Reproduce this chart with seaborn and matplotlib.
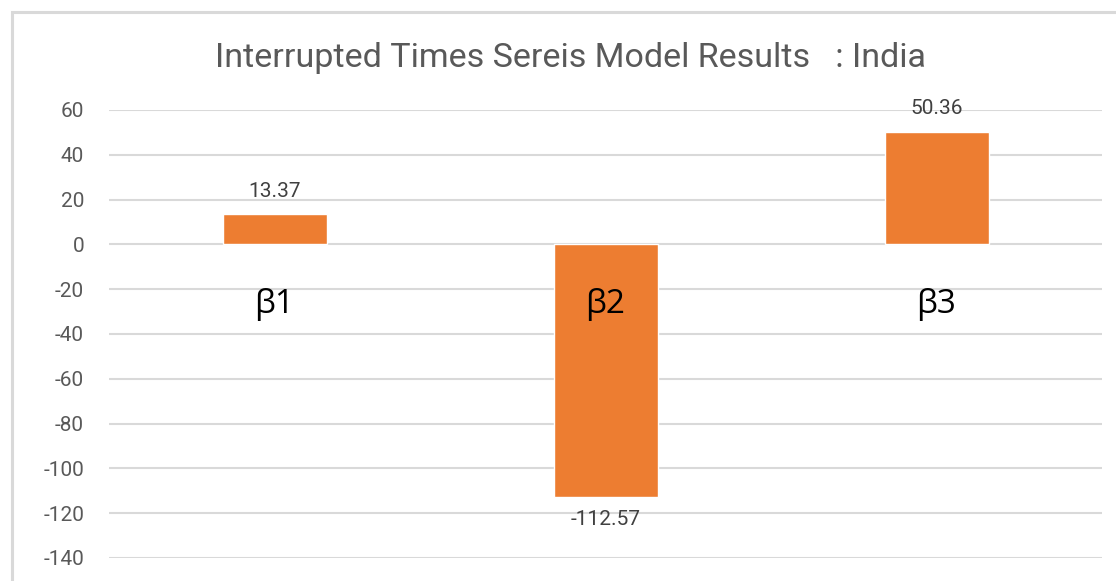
import pandas as pd
import matplotlib
matplotlib.use("Agg")
import matplotlib.pyplot as plt
import seaborn as sns
from matplotlib.patches import Rectangle

categories = ["β1", "β2", "β3"]
values = [13.37, -112.57, 50.36]
yticks = [60, 40, 20, 0, -20, -40, -60, -80, -100, -120, -140]

df = pd.DataFrame({"coef": categories, "value": values})

sns.set_theme(style="white")
plt.rcParams['font.family'] = ['Roboto', 'DejaVu Sans']

fig = plt.figure(figsize=(11.16, 5.81), dpi=100)
ax = fig.add_axes([0.0977, 0.0396, 0.8898, 0.7711])

# chart border
fig.patches.append(Rectangle((11.5 / 1116, -0.05), 1.2, 1 - 11.5 / 581 + 0.05,
                             transform=fig.transFigure, fill=False,
                             edgecolor="#D9D9D9", linewidth=2.2))

sns.barplot(data=df, x="coef", y="value", color="#ED7D31", width=0.314,
            saturation=1, ax=ax, zorder=3)

ax.set_ylim(-140, 60)
ax.set_yticks(yticks)
ax.set_yticklabels([str(t) for t in yticks])
ax.set_xlim(-0.5, 2.5)
ax.yaxis.grid(True, color="#D9D9D9", linewidth=1.5, zorder=0)
ax.xaxis.grid(False)
for s in ax.spines.values():
    s.set_visible(False)

ax.set_xticks([])
ax.set_xlabel("")
ax.set_ylabel("")
ax.tick_params(axis="y", length=0, pad=18, labelsize=15, labelcolor="#595959")

ax.bar_label(ax.containers[0], labels=[f"{v:.2f}" for v in values],
             padding=10, fontsize=15, color="#404040")

for i, c in enumerate(categories):
    ax.text(i, -27, c, ha="center", va="center", fontsize=24, color="black",
            family=["Open Sans", "DejaVu Sans"], zorder=5)

fig.text(0.511, 0.9, "Interrupted Times Sereis Model Results   : India",
         ha="center", va="center", fontsize=24.5, color="#595959")

fig.savefig("out.png", dpi=100, facecolor="white")
